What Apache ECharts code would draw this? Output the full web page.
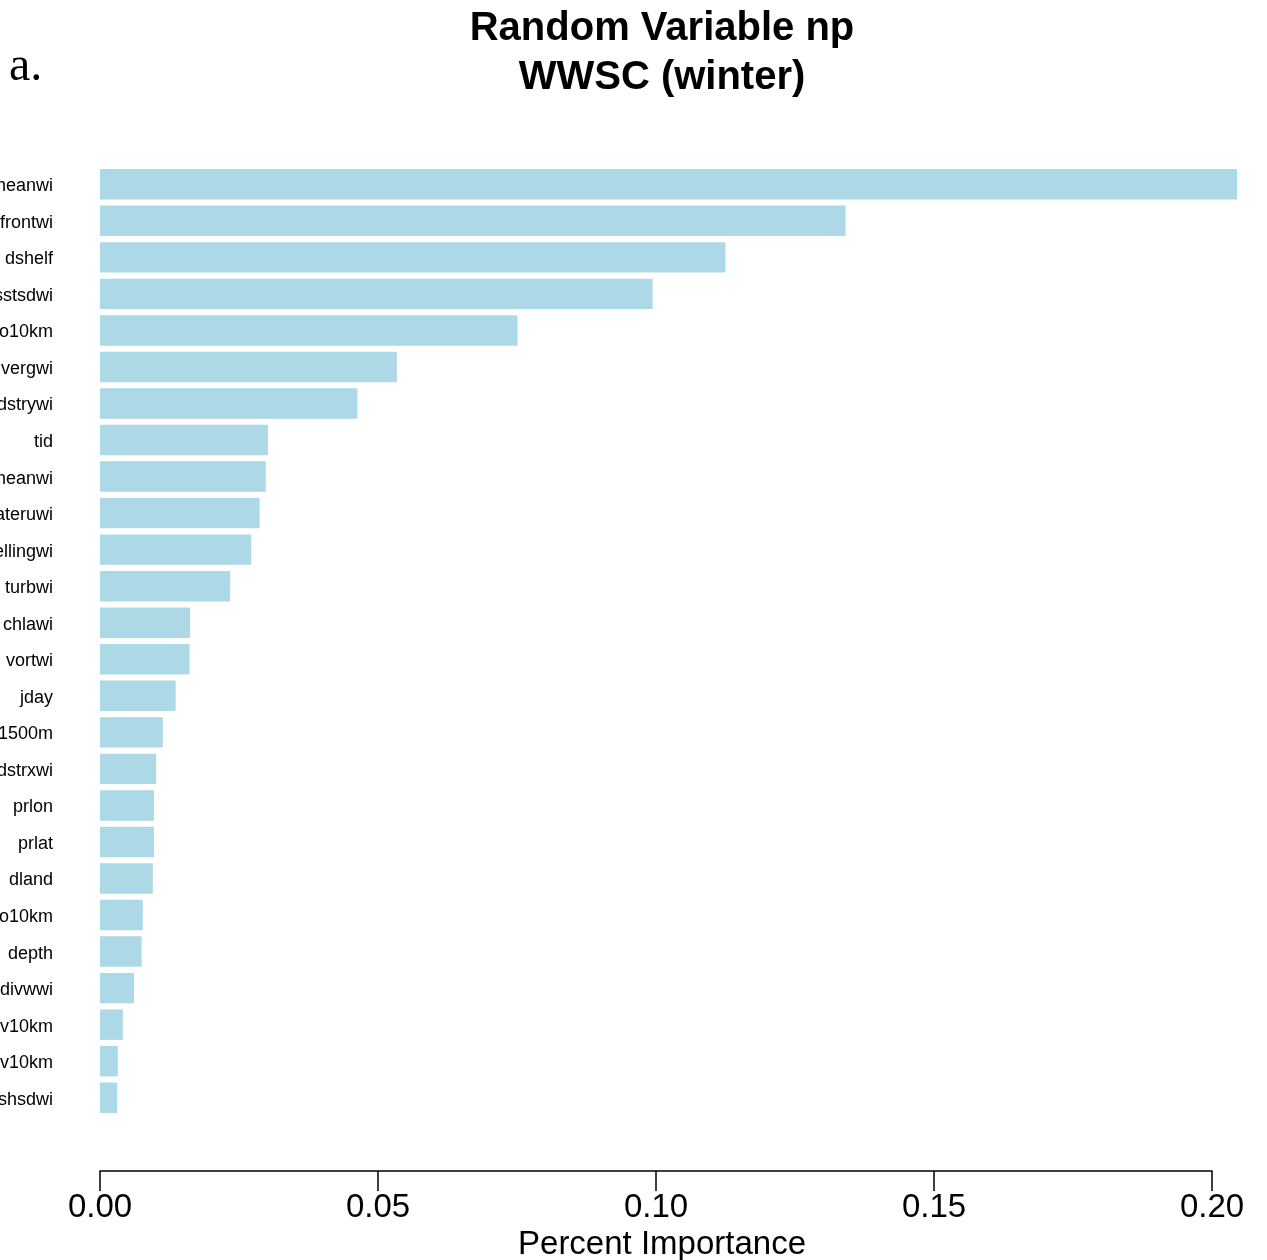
<!DOCTYPE html>
<html>
<head>
<meta charset="utf-8">
<script src="https://cdn.jsdelivr.net/npm/echarts@6/dist/echarts.min.js"></script>
<style>
html,body{margin:0;padding:0;background:#fff;}
#chart{width:1267px;height:1260px;}
</style>
</head>
<body>
<div id="chart"></div>
<script>
// Variable names (as visible, top to bottom)
const categories = [
  "heanwi", "frontwi", "dshelf", "sstsdwi", "o10km", "vergwi", "dstrywi",
  "tid", "heanwi ", "ateruwi", "ellingwi", "turbwi", "chlawi", "vortwi",
  "jday", "1500m", "dstrxwi", "prlon", "prlat", "dland", "o10km ",
  "depth", "divwwi", "v10km", "v10km ", "shsdwi"
];
// Percent importance values (top to bottom)
const importance = [
  0.2045, 0.1341, 0.1125, 0.0994, 0.0751, 0.0534, 0.0463,
  0.0302, 0.0298, 0.0287, 0.0272, 0.0234, 0.0162, 0.0161,
  0.0136, 0.0113, 0.0101, 0.0097, 0.0097, 0.0095, 0.0077,
  0.0075, 0.0061, 0.0041, 0.0032, 0.0031
];
const xTicks = [0, 0.05, 0.10, 0.15, 0.20];
const titleLines = ["Random Variable np", "WWSC (winter)"];
const panelLabel = "a.";
const xAxisTitle = "Percent Importance";

const chart = echarts.init(document.getElementById('chart'), null, {renderer: 'canvas'});
const option = {
  backgroundColor: '#ffffff',
  animation: false,
  graphic: [
    {type: 'text', x: 662, y: 29, style: {text: titleLines[0], font: 'bold 40px "Liberation Sans", Arial, sans-serif', fill: '#000', textAlign: 'center', textVerticalAlign: 'middle', verticalAlign: 'middle'}},
    {type: 'text', x: 662, y: 78, style: {text: titleLines[1], font: 'bold 40px "Liberation Sans", Arial, sans-serif', fill: '#000', textAlign: 'center', textVerticalAlign: 'middle', verticalAlign: 'middle'}},
    {type: 'text', x: 9, y: 67, style: {text: panelLabel, font: '48px "Liberation Serif", "Times New Roman", serif', fill: '#000', textAlign: 'left', textVerticalAlign: 'middle', verticalAlign: 'middle'}}
  ],
  grid: {left: 100, right: 55, top: 166, height: 950, outerBoundsMode: 'none', containLabel: false},
  xAxis: {
    type: 'value',
    min: xTicks[0],
    max: xTicks[xTicks.length - 1],
    interval: 0.05,
    offset: 55,
    name: xAxisTitle,
    nameLocation: 'middle',
    nameGap: 52,
    nameTextStyle: {fontFamily: '"Liberation Sans", Arial, sans-serif', fontSize: 33, color: '#000', padding: [0, 0, 0, 12]},
    axisLine: {show: true, lineStyle: {color: '#000', width: 1.5}},
    axisTick: {show: true, length: 20, lineStyle: {color: '#000', width: 1.5}},
    axisLabel: {margin: 20, fontFamily: '"Liberation Sans", Arial, sans-serif', fontSize: 33, color: '#000', formatter: v => v.toFixed(2)},
    splitLine: {show: false}
  },
  yAxis: {
    type: 'category',
    data: categories,
    inverse: true,
    axisLine: {show: false},
    axisTick: {show: false},
    axisLabel: {margin: 47, verticalAlign: 'top', lineHeight: 4, fontFamily: '"Liberation Sans", Arial, sans-serif', fontSize: 18, color: '#000', formatter: v => v.trim()}
  },
  series: [{
    type: 'bar',
    data: importance,
    clip: false,
    barCategoryGap: '16.7%',
    itemStyle: {color: '#ADD8E6'}
  }]
};
chart.setOption(option);
</script>
</body>
</html>
